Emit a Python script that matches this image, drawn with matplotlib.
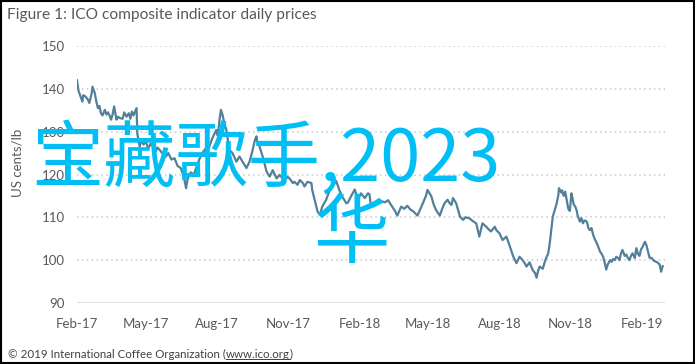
import datetime as dt
import matplotlib
matplotlib.use("Agg")
import matplotlib.pyplot as plt
import matplotlib.dates as mdates
from matplotlib.patches import Rectangle

# ICO composite indicator, day offsets from 1 Feb 2017 and prices (US cents/lb)
start = dt.date(2017, 2, 1)
days = [0, 2, 5, 7, 8, 11, 14, 16, 19, 20, 23, 25, 27, 29, 31, 33, 36, 38, 40, 42,
        44, 46, 48, 51, 53, 55, 59, 61, 64, 67, 69, 71, 73, 77, 78, 81, 83, 86, 89, 92,
        95, 98, 102, 104, 107, 111, 115, 118, 122, 126, 130, 134, 138, 141, 143, 147, 151, 155, 158, 162,
        166, 169, 171, 175, 180, 182, 184, 186, 188, 191, 193, 195, 197, 201, 206, 210, 214, 219, 223, 227,
        230, 232, 233, 236, 240, 245, 249, 253, 258, 262, 266, 269, 272, 275, 279, 281, 285, 288, 292, 294,
        298, 303, 304, 308, 311, 314, 317, 322, 326, 330, 335, 339, 343, 348, 350, 355, 359, 363, 367, 372,
        376, 378, 380, 385, 389, 393, 398, 402, 406, 411, 414, 419, 423, 427, 431, 434, 438, 440, 444, 447,
        451, 453, 456, 458, 461, 464, 469, 472, 475, 479, 482, 484, 486, 490, 495, 499, 502, 507, 511, 516,
        518, 520, 524, 529, 532, 535, 540, 542, 546, 550, 555, 558, 561, 564, 568, 572, 576, 579, 581, 585,
        589, 592, 594, 596, 598, 602, 605, 607, 609, 611, 613, 615, 618, 620, 622, 623, 626, 627, 629, 631,
        633, 635, 637, 639, 640, 642, 644, 646, 647, 650, 652, 654, 656, 659, 661, 663, 665, 667, 669, 672,
        674, 676, 678, 680, 682, 684, 686, 689, 691, 693, 695, 697, 700, 701, 703, 705, 708, 710, 712, 714,
        716, 718, 721, 723, 725, 727, 729, 731, 734, 736, 738, 740, 743, 744, 746, 749, 750, 753, 755, 757]
prices = [142.0, 139.5, 138.0, 137.0, 138.5, 138.2, 137.5, 136.7, 139.0, 140.5, 139.0, 137.0, 135.5, 136.0, 134.3, 133.8, 135.1, 134.0, 134.5, 133.8,
          132.8, 134.0, 135.9, 132.8, 133.5, 133.2, 133.0, 134.5, 133.5, 134.3, 133.0, 134.7, 133.8, 135.5, 129.5, 126.5, 128.0, 127.0, 127.7, 126.0,
          127.2, 126.5, 125.5, 126.3, 125.7, 124.8, 124.2, 125.0, 123.5, 123.8, 122.0, 121.5, 119.5, 116.8, 119.0, 120.5, 120.0, 122.0, 123.5, 125.0,
          126.0, 125.5, 126.5, 128.5, 130.4, 129.0, 132.5, 135.1, 134.0, 131.5, 130.4, 128.0, 125.7, 125.0, 123.0, 124.2, 123.0, 121.5, 123.0, 125.7,
          128.1, 128.9, 127.5, 126.5, 124.2, 120.7, 119.5, 121.0, 119.1, 119.9, 119.0, 118.7, 119.5, 119.0, 118.0, 118.3, 117.6, 118.7, 118.0, 117.2,
          118.3, 118.0, 116.4, 113.5, 111.3, 110.6, 112.5, 114.1, 116.0, 117.2, 118.5, 116.4, 114.8, 113.3, 113.4, 115.2, 116.5, 114.1, 115.6, 114.5,
          115.6, 115.4, 112.5, 112.9, 114.1, 113.8, 113.5, 114.0, 112.9, 111.5, 110.4, 112.5, 112.0, 112.7, 111.8, 111.5, 110.8, 110.4, 112.0, 113.3,
          115.0, 116.4, 115.5, 114.9, 113.0, 111.7, 110.4, 112.0, 113.3, 114.1, 113.2, 112.9, 114.5, 113.3, 110.2, 109.4, 110.0, 109.8, 109.2, 108.6,
          107.0, 105.5, 108.6, 107.8, 107.2, 106.7, 107.8, 107.0, 106.3, 104.7, 105.5, 104.0, 102.4, 100.8, 99.3, 100.8, 100.0, 99.2, 98.5, 99.5,
          97.7, 97.0, 95.9, 97.5, 98.5, 98.0, 99.8, 100.8, 101.5, 103.9, 107.0, 110.2, 112.0, 113.3, 115.0, 116.8, 115.8, 116.3, 115.0, 116.0,
          114.0, 112.0, 111.5, 115.6, 114.8, 113.0, 112.5, 111.5, 110.5, 109.0, 109.8, 108.6, 109.3, 109.0, 107.5, 107.0, 107.5, 106.0, 105.0, 103.9,
          103.0, 102.0, 101.5, 100.8, 99.5, 97.8, 99.0, 100.0, 99.6, 100.3, 100.0, 100.8, 100.4, 100.0, 101.5, 102.4, 101.0, 101.3, 100.5, 100.0,
          101.0, 101.6, 100.5, 102.8, 101.5, 101.0, 102.5, 103.1, 104.3, 103.5, 102.0, 100.6, 100.5, 100.2, 99.8, 99.6, 99.5, 99.0, 97.3, 98.6]
y_ticks = [90, 100, 110, 120, 130, 140, 150]

title = "Figure 1: ICO composite indicator daily prices"
y_label = "US cents/lb"
footer = "\u00a9 2019 International Coffee Organization ("
footer_link = "www.ico.org"
overlay_1 = "宝藏歌手,2023"
overlay_2 = "华"

dates = [start + dt.timedelta(days=d) for d in days]

fig = plt.figure(figsize=(6.95, 3.64), dpi=100)
fig.patch.set_facecolor("white")
fig.patches.append(Rectangle((0.001, 0.002), 0.997, 0.995, transform=fig.transFigure,
                             fill=False, edgecolor="black", linewidth=1.5))

ax = fig.add_axes([77 / 695, 61 / 364, 588 / 695, 257 / 364])
ax.plot(dates, prices, color="#52809A", linewidth=1.6, solid_joinstyle="round")

ax.set_ylim(90, 150)
ax.set_xlim(start, start + dt.timedelta(days=760))
ax.set_yticks(y_ticks)
for v in y_ticks[1:]:
    ax.axhline(v, color="#C8C8C8", linewidth=1.1, linestyle=(0, (1, 2.2)), zorder=0)
ax.axhline(90, color="#D9D9D9", linewidth=1.2, zorder=0)

ax.xaxis.set_major_locator(mdates.MonthLocator(bymonth=[2, 5, 8, 11]))
ax.xaxis.set_major_formatter(mdates.DateFormatter("%b-%y"))
for s in ax.spines.values():
    s.set_visible(False)
ax.tick_params(axis="x", length=0, pad=11, labelsize=9.5, labelcolor="#595959")
ax.tick_params(axis="y", length=0, pad=9, labelsize=9.5, labelcolor="#595959")
for lab in ax.get_xticklabels() + ax.get_yticklabels():
    lab.set_family("Lato")

fig.text(7 / 695, 1 - 15 / 364, title, family="Lato", fontsize=11.2, color="#595959",
         ha="left", va="center")
fig.text(17 / 695, 1 - 163 / 364, y_label, family="Lato", fontsize=9.5, color="#595959",
         rotation=90, ha="center", va="center")

# footer with underlined link
t1 = fig.text(8 / 695, 1 - 354 / 364, footer, family="Lato", fontsize=8.3, color="#404040",
              ha="left", va="center")
fig.canvas.draw()
r = fig.canvas.get_renderer()
bb1 = t1.get_window_extent(r)
t2 = fig.text(bb1.x1 / 695, 1 - 354 / 364, footer_link, family="Lato", fontsize=8.3,
              color="#404040", ha="left", va="center")
bb2 = t2.get_window_extent(r)
t3 = fig.text(bb2.x1 / 695, 1 - 354 / 364, ")", family="Lato", fontsize=8.3,
              color="#404040", ha="left", va="center")
fig.add_artist(plt.Line2D([bb2.x0 / 695, bb2.x1 / 695], [(bb2.y0 + 1) / 364, (bb2.y0 + 1) / 364],
                          transform=fig.transFigure, color="#404040", linewidth=0.7))

fig.text(31 / 695, 1 - 160 / 364, overlay_1, family=["Noto Sans CJK SC", "DejaVu Sans"],
         fontsize=52, color="#00BFF5", ha="left", va="center")
fig.text(313 / 695, 1 - 235 / 364, overlay_2, family=["Noto Sans CJK SC", "DejaVu Sans"],
         fontsize=55, color="#00BFF5", ha="left", va="center")

fig.savefig("out.png", dpi=100)
